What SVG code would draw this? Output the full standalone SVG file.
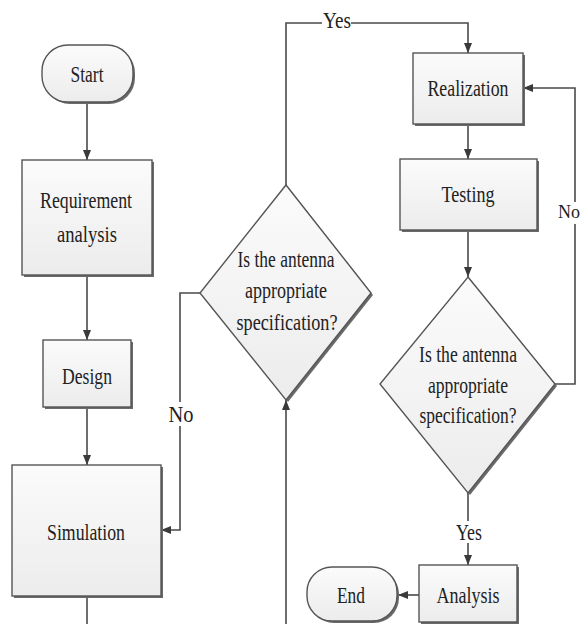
<svg xmlns="http://www.w3.org/2000/svg" width="582" height="624" viewBox="0 0 582 624">
<defs>
<linearGradient id="g" x1="0" y1="0" x2="0" y2="1">
<stop offset="0" stop-color="#fbfbfb"/>
<stop offset="1" stop-color="#ececec"/>
</linearGradient>
<marker id="ah" markerWidth="10" markerHeight="8" refX="10" refY="4" orient="auto" markerUnits="userSpaceOnUse">
<path d="M0,0 L10,4 L0,8 Z" fill="#3a3a3a"/>
</marker>
<style>
.sh{fill:#6a6a6a;}
.box{fill:url(#g);stroke:#555;stroke-width:1.4;}
.ln{fill:none;stroke:#4a4a4a;stroke-width:1.6;}
.t{font-family:"Liberation Serif","Times New Roman",serif;font-size:24px;fill:#222;text-anchor:middle;}
.lb{fill:#fff;}
</style>
</defs>
<rect width="582" height="624" fill="#fff"/>

<g id="connectors">
<path class="ln" d="M87,102 V160" marker-end="url(#ah)"/>
<path class="ln" d="M87,275 V340" marker-end="url(#ah)"/>
<path class="ln" d="M87,407 V465" marker-end="url(#ah)"/>
<path class="ln" d="M87,596 V624"/>
<path class="ln" d="M286,624 V400" marker-end="url(#ah)"/>
<path class="ln" d="M200,293 H180 V530 H161" marker-end="url(#ah)"/>
<path class="ln" d="M286,185 V23 H468 V53" marker-end="url(#ah)"/>
<path class="ln" d="M468,124 V159" marker-end="url(#ah)"/>
<path class="ln" d="M468,230 V277" marker-end="url(#ah)"/>
<path class="ln" d="M555,384 H575 V88 H523" marker-end="url(#ah)"/>
<path class="ln" d="M468,493 V565" marker-end="url(#ah)"/>
<path class="ln" d="M419,595 H398" marker-end="url(#ah)"/>
<rect class="lb" x="168" y="402" width="25" height="24"/>
<text class="t" x="181" y="422" textLength="25" lengthAdjust="spacingAndGlyphs">No</text>
<rect class="lb" x="322" y="10" width="29" height="22"/>
<text class="t" x="337" y="28" textLength="28" lengthAdjust="spacingAndGlyphs">Yes</text>
<rect class="lb" x="559" y="202" width="22" height="22"/>
<text class="t" x="569" y="218" style="font-size:18px">No</text>
<rect class="lb" x="455" y="521" width="28" height="22"/>
<text class="t" x="469" y="540" textLength="26" lengthAdjust="spacingAndGlyphs">Yes</text>
</g>

<g id="start">
<rect class="sh" x="44" y="47" width="91" height="57" rx="26"/>
<rect class="box" x="42" y="45" width="91" height="57" rx="26"/>
<text class="t" x="87" y="82" textLength="33" lengthAdjust="spacingAndGlyphs">Start</text>
</g>

<g id="requirement">
<rect class="sh" x="24" y="162" width="130" height="115"/>
<rect class="box" x="22" y="160" width="130" height="115"/>
<text class="t" x="86" y="208" textLength="92" lengthAdjust="spacingAndGlyphs">Requirement</text>
<text class="t" x="87" y="242" textLength="60" lengthAdjust="spacingAndGlyphs">analysis</text>
</g>

<g id="design">
<rect class="sh" x="45" y="342" width="88" height="67"/>
<rect class="box" x="43" y="340" width="88" height="67"/>
<text class="t" x="87" y="384" textLength="50" lengthAdjust="spacingAndGlyphs">Design</text>
</g>

<g id="simulation">
<rect class="sh" x="14" y="467" width="149" height="131"/>
<rect class="box" x="12" y="465" width="149" height="131"/>
<text class="t" x="86" y="540" textLength="78" lengthAdjust="spacingAndGlyphs">Simulation</text>
</g>

<g id="decision1">
<path class="sh" d="M288,187 L373,295 L288,402 L202,295 Z"/>
<path class="box" d="M286,185 L371,293 L286,400 L200,293 Z"/>
<text class="t" x="286" y="267" textLength="97" lengthAdjust="spacingAndGlyphs">Is the antenna</text>
<text class="t" x="286" y="298" textLength="82" lengthAdjust="spacingAndGlyphs">appropriate</text>
<text class="t" x="287" y="330" textLength="101" lengthAdjust="spacingAndGlyphs">specification?</text>
</g>

<g id="realization">
<rect class="sh" x="415" y="55" width="110" height="71"/>
<rect class="box" x="413" y="53" width="110" height="71"/>
<text class="t" x="468" y="96" textLength="81" lengthAdjust="spacingAndGlyphs">Realization</text>
</g>

<g id="testing">
<rect class="sh" x="402" y="161" width="137" height="71"/>
<rect class="box" x="400" y="159" width="137" height="71"/>
<text class="t" x="468" y="202" textLength="53" lengthAdjust="spacingAndGlyphs">Testing</text>
</g>

<g id="decision2">
<path class="sh" d="M470,279 L557,386 L470,495 L382,386 Z"/>
<path class="box" d="M468,277 L555,384 L468,493 L380,384 Z"/>
<text class="t" x="468" y="362" textLength="98" lengthAdjust="spacingAndGlyphs">Is the antenna</text>
<text class="t" x="468" y="393" textLength="80" lengthAdjust="spacingAndGlyphs">appropriate</text>
<text class="t" x="468" y="423" textLength="97" lengthAdjust="spacingAndGlyphs">specification?</text>
</g>

<g id="analysis">
<rect class="sh" x="421" y="567" width="98" height="57"/>
<rect class="box" x="419" y="565" width="98" height="57"/>
<text class="t" x="468" y="603" textLength="63" lengthAdjust="spacingAndGlyphs">Analysis</text>
</g>

<g id="end">
<rect class="sh" x="309" y="569" width="90" height="54" rx="25"/>
<rect class="box" x="307" y="567" width="90" height="54" rx="25"/>
<text class="t" x="351" y="603" textLength="28" lengthAdjust="spacingAndGlyphs">End</text>
</g>
</svg>
